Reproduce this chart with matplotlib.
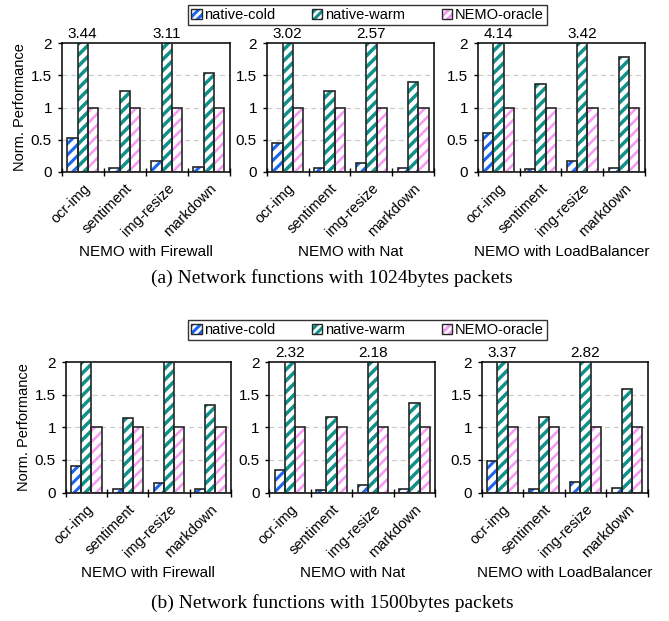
import numpy as np
import matplotlib
matplotlib.use("Agg")
import matplotlib.pyplot as plt
from matplotlib.patches import Patch

apps = ["ocr-img", "sentiment", "img-resize", "markdown"]
nfs = ["NEMO with Firewall", "NEMO with Nat", "NEMO with LoadBalancer"]
series = ["native-cold", "native-warm", "NEMO-oracle"]

# (a) 1024 bytes packets, one row per network function
cold_1024 = [[0.52, 0.06, 0.17, 0.07],
             [0.44, 0.05, 0.14, 0.05],
             [0.60, 0.04, 0.17, 0.06]]
warm_1024 = [[3.44, 1.26, 3.11, 1.53],
             [3.02, 1.25, 2.57, 1.40],
             [4.14, 1.37, 3.42, 1.79]]
oracle_1024 = [[1.0, 1.0, 1.0, 1.0]] * 3
labeled_1024 = [True, True, True]

# (b) 1500 bytes packets (firewall warm values above 2 are not printed in the source)
cold_1500 = [[0.40, 0.05, 0.14, 0.06],
             [0.34, 0.04, 0.11, 0.05],
             [0.49, 0.05, 0.16, 0.07]]
warm_1500 = [[2.40, 1.15, 2.30, 1.35],
             [2.32, 1.16, 2.18, 1.37],
             [3.37, 1.16, 2.82, 1.59]]
oracle_1500 = [[1.0, 1.0, 1.0, 1.0]] * 3
labeled_1500 = [False, True, True]

captions = ["(a) Network functions with 1024bytes packets",
            "(b) Network functions with 1500bytes packets"]

hatch_colors = ["#1a66f2", "#0f9088", "#f49cf2"]
hatch_lws = [2.2, 2.5, 1.9]
edge = "#262626"

plt.rcParams["font.family"] = ["Liberation Sans", "DejaVu Sans"]
plt.rcParams["hatch.linewidth"] = 2.2

W, H = 669, 621
fig = plt.figure(figsize=(W / 100, H / 100), dpi=100)

# pixel boxes of the axes (left, right, top, bottom)
row_boxes = [
    ([(61.7, 230), (266.7, 434.3), (477.7, 645)], 43.3, 171.7),
    ([(65.7, 231), (269.3, 435.3), (481.7, 647.7)], 362.3, 492.5),
]
rows = [(cold_1024, warm_1024, oracle_1024, labeled_1024),
        (cold_1500, warm_1500, oracle_1500, labeled_1500)]

w = 0.245
for r, (cols, top, bot) in enumerate(row_boxes):
    cold, warm, oracle, labeled = rows[r]
    for p, (x0, x1) in enumerate(cols):
        ax = fig.add_axes([x0 / W, 1 - bot / H, (x1 - x0) / W, (bot - top) / H])
        x = np.arange(len(apps))
        for k, vals in enumerate([cold[p], warm[p], oracle[p]]):
            xs = x + (k - 1) * w
            bars = ax.bar(xs, vals, w, color="white", edgecolor=hatch_colors[k],
                          hatch="///", linewidth=0, zorder=2)
            for b in bars:
                if hasattr(b, "set_hatch_linewidth"):
                    b.set_hatch_linewidth(hatch_lws[k])
            ax.bar(xs, vals, w, fill=False, edgecolor=edge, linewidth=1.2, zorder=3)
        if labeled[p]:
            for i, v in enumerate(warm[p]):
                if v > 2:
                    ax.annotate(f"{v:.2f}", (i, 2), xytext=(0, 1.5), textcoords="offset points",
                                ha="center", va="bottom", fontsize=11, annotation_clip=False)
        ax.set_ylim(0, 2)
        ax.set_xlim(-0.5, len(apps) - 0.5)
        ax.set_yticks([0, 0.5, 1, 1.5, 2])
        ax.set_yticklabels(["0", "0.5", "1", "1.5", "2"], fontsize=11)
        for g in [0.5, 1, 1.5]:
            ax.axhline(g, color="#cccccc", lw=0.9, ls=(0, (4, 3)), zorder=1)
        ax.set_xticks(np.arange(len(apps) + 1) - 0.5)
        ax.set_xticklabels([])
        ax.set_xticks(x, minor=True)
        ax.set_xticklabels(apps, minor=True, rotation=45, ha="right",
                           rotation_mode="anchor", fontsize=10.5)
        ax.tick_params(axis="x", which="major", direction="inout", length=6, width=1)
        ax.tick_params(axis="x", which="minor", length=0, pad=7)
        ax.tick_params(axis="y", direction="out", length=3, width=1, pad=4)
        for s in ax.spines.values():
            s.set_linewidth(1.1)
            s.set_color("black")
        ax.set_xlabel(nfs[p], fontsize=11, labelpad=4)
        if p == 0:
            ax.set_ylabel("Norm. Performance", fontsize=10.5, labelpad=3)

# legends
for cy in [15, 330.4]:
    handles = [(Patch(facecolor="white", edgecolor=hatch_colors[k], hatch="////", linewidth=0),
                Patch(facecolor="none", edgecolor=edge, linewidth=1.0)) for k in range(3)]
    leg = fig.legend(handles, series, loc="center", bbox_to_anchor=(367.5 / W, 1 - cy / H),
                     ncol=3, fontsize=10.5, frameon=True, fancybox=False,
                     handlelength=0.7, handleheight=0.7, handletextpad=0.2,
                     columnspacing=2.5, borderpad=0.2, borderaxespad=0)
    leg.get_frame().set_edgecolor("black")
    leg.get_frame().set_linewidth(1.0)

# captions
for cy, txt in zip([278, 603], captions):
    fig.text(332 / W, 1 - cy / H, txt, ha="center", va="center",
             fontsize=14, family=["Liberation Serif", "DejaVu Serif"])

fig.savefig("out.png", dpi=100)
